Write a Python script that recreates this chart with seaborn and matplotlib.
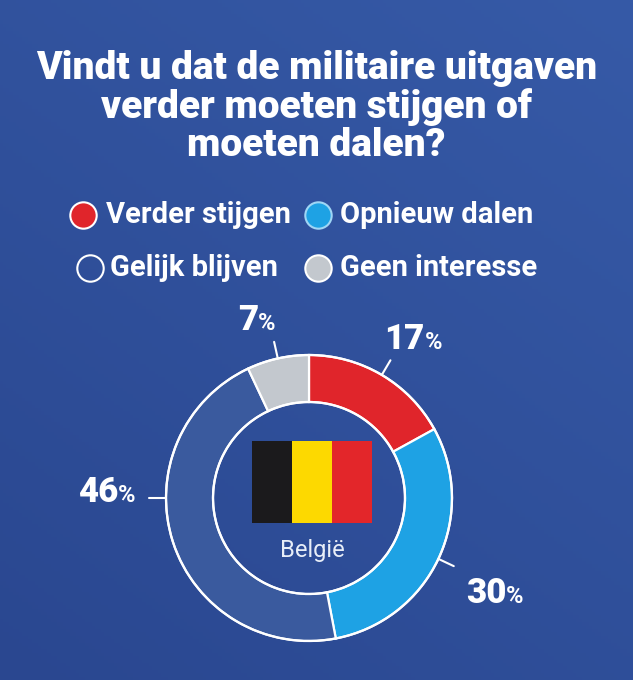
import numpy as np
import matplotlib
matplotlib.use("Agg")
import matplotlib.pyplot as plt
from matplotlib.patches import Rectangle
import seaborn as sns

# data
categories = ["Verder stijgen", "Opnieuw dalen", "Gelijk blijven", "Geen interesse"]
values = [17, 30, 46, 7]
colors = ["#e0252b", "#1ea2e4", "#3a5a9e", "#c3c8ce"]
legend_faces = ["#e0252b", "#1ea2e4", "none", "#c3c8ce"]
label_angle_override = {2: 180}   # 46% label sits straight left

title = "Vindt u dat de militaire uitgaven\nverder moeten stijgen of\nmoeten dalen?"
country = "België"

sns.set_theme(style="white")
plt.rcParams["font.family"] = ["Roboto", "DejaVu Sans"]

W, H = 633, 680
fig = plt.figure(figsize=(W / 100, H / 100), dpi=100)

# background gradient
bg = fig.add_axes([0, 0, 1, 1])
yy, xx = np.mgrid[0:1:200j, 0:1:200j]
t = 0.6 * yy + 0.4 * (1 - xx)
top = np.array([0x36, 0x5a, 0xa7]) / 255
bot = np.array([0x2a, 0x47, 0x90]) / 255
img = top[None, None, :] * (1 - t[..., None]) + bot[None, None, :] * t[..., None]
bg.imshow(img, extent=[0, 1, 0, 1], aspect="auto", origin="upper")
bg.set_axis_off()

# title
fig.text(0.5, 1 - 107 / H, title, ha="center", va="center", color="white",
         fontsize=28, fontweight=900, linespacing=1.05)

# legend
leg_rows = [215, 268]
leg_cols = [(83, 106), (318, 340)]
for i, cat in enumerate(categories):
    r, c = divmod(i, 2)
    mx, tx = leg_cols[c]
    if i == 2:
        mx, tx = 90, 110
    y = 1 - leg_rows[r] / H
    fig.lines.append(plt.Line2D([mx / W], [y], transform=fig.transFigure,
                                marker="o", markersize=19,
                                markerfacecolor=legend_faces[i],
                                markeredgecolor="#ffffff" if i != 1 else "#9fd6f5",
                                markeredgewidth=1.5, linestyle="none"))
    fig.text(tx / W, y, cat, ha="left", va="center", color="white",
             fontsize=21, fontweight="bold")

# donut: axes 500px square, 1 unit = 100px, centre at (309, 498)
cx, cy, half = 309, 498, 250
ax = fig.add_axes([(cx - half) / W, 1 - (cy + half) / H, 2 * half / W, 2 * half / H])

R, w = 1.43, 0.47
wedges, _ = ax.pie(values, colors=colors, startangle=90, counterclock=False,
                   radius=R, wedgeprops=dict(width=w, edgecolor="white", linewidth=1.6))
ax.set_xlim(-2.5, 2.5)
ax.set_ylim(-2.5, 2.5)
ax.set_aspect("equal")
ax.set_axis_off()

# outer and inner white rings
th = np.linspace(0, 2 * np.pi, 400)
ax.plot(R * np.cos(th), R * np.sin(th), color="white", lw=1.6)
ax.plot((R - w) * np.cos(th), (R - w) * np.sin(th), color="white", lw=1.6)

# label nudges (x, y) in axis units
nudge = {0: (0.2, -0.03), 1: (0.0, -0.03), 3: (-0.1, -0.06)}

for i, (wd, v) in enumerate(zip(wedges, values)):
    ang = label_angle_override.get(i, (wd.theta1 + wd.theta2) / 2)
    a = np.deg2rad(ang)
    ca, sa = np.cos(a), np.sin(a)
    ax.plot([R * ca, (R + 0.17) * ca], [R * sa, (R + 0.17) * sa], color="white", lw=1.5)
    if i == 2:
        lx, ly = -(R + 0.48), 0.05
    elif i == 1:
        lx, ly = (R + 0.75) * ca, (R + 0.75) * sa
    else:
        lx, ly = (R + 0.45) * ca, (R + 0.45) * sa
    dx, dy = nudge.get(i, (0, 0))
    lx, ly = lx + dx, ly + dy
    ax.text(lx, ly, str(v), ha="right", va="center", color="white",
            fontsize=25, fontweight=900)
    ax.text(lx, ly - 0.03, "%", ha="left", va="center", color="white",
            fontsize=17, fontweight="bold")

# flag
flag = ["#1b1a1c", "#fdd900", "#e3262a"]
fx0, fy0, fw, fh = -0.57, -0.25, 0.40, 0.82
for k, col in enumerate(flag):
    ax.add_patch(Rectangle((fx0 + k * fw, fy0), fw, fh, color=col, lw=0))
ax.text(0.03, -0.52, country, ha="center", va="center", color="#e8eef8",
        fontsize=17, fontweight="normal")

fig.savefig("out.png", dpi=100)
